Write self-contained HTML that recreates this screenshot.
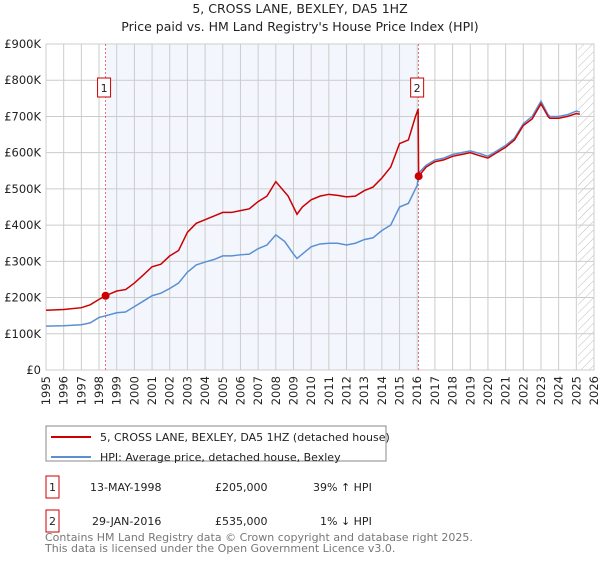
<!DOCTYPE html>
<html><head><meta charset="utf-8"><style>
body{margin:0;background:#fff;font-family:"Liberation Sans","DejaVu Sans",sans-serif;}
svg text{font-family:"DejaVu Sans","Liberation Sans",sans-serif;}
</style></head><body>
<svg id="c" width="600" height="560" viewBox="0 0 600 560" xmlns="http://www.w3.org/2000/svg">
<defs><pattern id="hatch" width="6" height="6" patternUnits="userSpaceOnUse" patternTransform="rotate(45)"><line x1="0" y1="0" x2="0" y2="6" stroke="#bbb" stroke-width="1"/></pattern></defs>
<text x="300" y="13" text-anchor="middle" font-size="12.5" fill="#222">5, CROSS LANE, BEXLEY, DA5 1HZ</text>
<text x="300" y="31" text-anchor="middle" font-size="12.5" fill="#222">Price paid vs. HM Land Registry's House Price Index (HPI)</text>
<g id="plot"></g>
<rect x="46" y="426" width="340" height="35" fill="#fff" stroke="#888"/>
<line x1="51" y1="437" x2="91" y2="437" stroke="#cc0000" stroke-width="2"/>
<text x="100" y="441" font-size="11" fill="#222">5, CROSS LANE, BEXLEY, DA5 1HZ (detached house)</text>
<line x1="51" y1="457" x2="91" y2="457" stroke="#5b8fd4" stroke-width="2"/>
<text x="100" y="461" font-size="11" fill="#222">HPI: Average price, detached house, Bexley</text>
<g font-size="11" fill="#222">
<rect x="46" y="476" width="13" height="22" fill="none" stroke="#cc0000"/>
<text x="52.5" y="491" text-anchor="middle">1</text>
<text x="90" y="491">13-MAY-1998</text>
<text x="215" y="491">£205,000</text>
<text x="313" y="491">39% ↑ HPI</text>
<rect x="46" y="510" width="13" height="22" fill="none" stroke="#cc0000"/>
<text x="52.5" y="525" text-anchor="middle">2</text>
<text x="92" y="525">29-JAN-2016</text>
<text x="215" y="525">£535,000</text>
<text x="320" y="525">1% ↓ HPI</text>
</g>
<text x="45" y="541" font-size="11" fill="#777">Contains HM Land Registry data © Crown copyright and database right 2025.</text>
<text x="45" y="552" font-size="11" fill="#777">This data is licensed under the Open Government Licence v3.0.</text>
</svg>
<script>
const yearTicks=[1995,1996,1997,1998,1999,2000,2001,2002,2003,2004,2005,2006,2007,2008,2009,2010,2011,2012,2013,2014,2015,2016,2017,2018,2019,2020,2021,2022,2023,2024,2025,2026];
const valueTicks=[0,100000,200000,300000,400000,500000,600000,700000,800000,900000];
const valueTickLabels=["£0","£100K","£200K","£300K","£400K","£500K","£600K","£700K","£800K","£900K"];
const hpiDates=[1995,1996,1997,1997.5,1998,1998.4,1999,1999.5,2000,2000.5,2001,2001.5,2002,2002.5,2003,2003.5,2004,2004.5,2005,2005.5,2006,2006.5,2007,2007.5,2008,2008.5,2009,2009.2,2009.5,2010,2010.5,2011,2011.5,2012,2012.5,2013,2013.5,2014,2014.5,2015,2015.5,2016,2016.1,2016.5,2017,2017.5,2018,2018.5,2019,2019.5,2020,2020.5,2021,2021.5,2022,2022.5,2023,2023.4,2023.5,2024,2024.5,2025,2025.2];
const hpiValues=[121000,122000,125000,130000,145000,150000,158000,160000,175000,190000,205000,212000,225000,240000,270000,290000,298000,305000,315000,315000,318000,320000,335000,345000,373000,355000,320000,308000,320000,340000,348000,350000,350000,345000,350000,360000,365000,385000,400000,450000,460000,510000,545000,565000,580000,585000,595000,600000,605000,598000,590000,605000,620000,640000,680000,700000,742000,705000,700000,700000,705000,715000,712000];
const propDates=[1995,1996,1997,1997.5,1998,1998.37,1999,1999.5,2000,2000.5,2001,2001.5,2002,2002.5,2003,2003.5,2004,2004.5,2005,2005.5,2006,2006.5,2007,2007.5,2008,2008.7,2009.2,2009.5,2010,2010.5,2011,2011.5,2012,2012.5,2013,2013.5,2014,2014.5,2015,2015.5,2015.9,2016.05,2016.08,2016.5,2017,2017.5,2018,2018.5,2019,2019.5,2020,2020.5,2021,2021.5,2022,2022.5,2023,2023.4,2023.5,2024,2024.5,2025,2025.2];
const propValues=[165000,167000,172000,180000,195000,205000,218000,222000,240000,262000,285000,292000,315000,330000,380000,405000,415000,425000,435000,435000,440000,445000,465000,480000,520000,480000,430000,450000,470000,480000,485000,482000,478000,480000,495000,505000,530000,560000,625000,635000,700000,720000,535000,560000,575000,580000,590000,595000,600000,592000,585000,600000,615000,635000,675000,693000,735000,700000,695000,695000,700000,708000,706000];
const sales=[{d:1998.37,v:205000,n:"1"},{d:2016.08,v:535000,n:"2"}];
const X0=46,X1=594,Y0=370,Y1=44;
const x=d=>X0+(d-1995)/(2026-1995)*(X1-X0);
const y=v=>Y0-v/900000*(Y0-Y1);
const NS="http://www.w3.org/2000/svg";
const g=document.getElementById('plot');
function mk(t,a){const e=document.createElementNS(NS,t);for(const k in a)e.setAttribute(k,a[k]);g.appendChild(e);return e;}
let e=mk('rect',{x:x(sales[0].d),y:Y1,width:x(sales[1].d)-x(sales[0].d),height:Y0-Y1,fill:'#eef3fc',opacity:0.7});


e=mk('rect',{x:x(2025.1),y:Y1,width:X1-x(2025.1),height:Y0-Y1,fill:'url(#hatch)'});


yearTicks.forEach(t=>{const l=mk('line',{x1:x(t),x2:x(t),y1:Y1,y2:Y0,stroke:'#ccc','stroke-width':1});


const tx=mk('text',{x:0,y:0,'font-size':11.5,fill:'#222','text-anchor':'end',transform:`translate(${x(t)+4},${Y0+6}) rotate(-90)`});tx.textContent=t;

});
valueTicks.forEach((v,i)=>{const l=mk('line',{x1:X0,x2:X1,y1:y(v),y2:y(v),stroke:'#ccc','stroke-width':1});


const tx=mk('text',{x:X0-5,y:y(v)+4,'font-size':11.5,fill:'#222','text-anchor':'end'});tx.textContent=valueTickLabels[i];

});
e=mk('rect',{x:X0,y:Y1,width:X1-X0,height:Y0-Y1,fill:'none',stroke:'#ccc'});


sales.forEach(s=>{const l=mk('line',{x1:x(s.d),x2:x(s.d),y1:Y1,y2:Y0,stroke:'#e05050','stroke-width':0.8,'stroke-dasharray':'2,2'});

});
e=mk('polyline',{points:hpiDates.map((d,i)=>x(d)+','+y(hpiValues[i])).join(' '),fill:'none',stroke:'#5b8fd4','stroke-width':1.5});


e=mk('polyline',{points:propDates.map((d,i)=>x(d)+','+y(propValues[i])).join(' '),fill:'none',stroke:'#cc0000','stroke-width':1.5});


sales.forEach(s=>{const c=mk('circle',{cx:x(s.d),cy:y(s.v),r:4,fill:'#cc0000'});


const bx=mk('rect',{x:x(s.d)-8,y:78,width:13,height:19,fill:'#fff',stroke:'#cc0000'});


const t=mk('text',{x:x(s.d)-1.5,y:92,'font-size':11,fill:'#222','text-anchor':'middle'});t.textContent=s.n;

});
</script>
</body></html>
